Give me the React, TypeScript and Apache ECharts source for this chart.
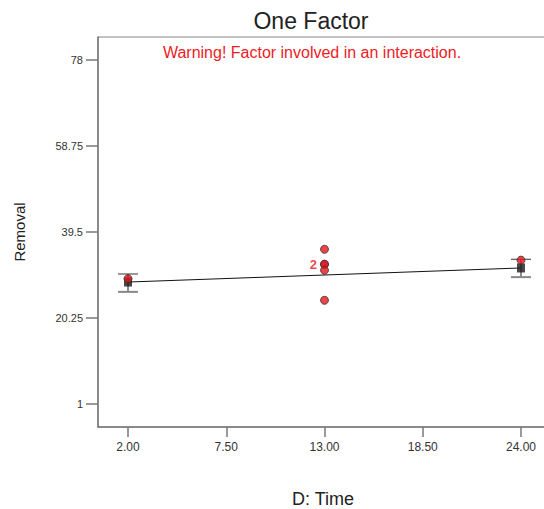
import React, { useEffect, useRef } from "react";
import * as echarts from "echarts";

const xTicks = [2, 7.5, 13, 18.5, 24];
const yTicks = [1, 20.25, 39.5, 58.75, 78];
const observedX = [2, 13, 13, 13, 13, 13, 24];
const observedY = [29.05, 35.63, 32.27, 32.27, 30.93, 24.21, 33.2];
const predX = [2, 24];
const predY = [28.3, 31.45];
const lowerCI = [26.1, 29.4];
const upperCI = [30.1, 33.4];

export default function App() {
  const ref = useRef<HTMLDivElement>(null);
  useEffect(() => {
    if (!ref.current) return;
    const chart = echarts.init(ref.current, undefined, { renderer: "svg" });
    const font = "'Liberation Sans', Arial, sans-serif";
    const obs = observedX.map((x, i) => {
      const item: any = { value: [x, observedY[i]] };
      if (i === 2) {
        item.label = {
          show: true,
          position: "left",
          distance: 3,
          formatter: "2",
          color: "#e8141c",
          fontWeight: "bold",
          fontSize: 13,
          fontFamily: font,
        };
      }
      return item;
    });
    chart.setOption({
      animation: false,
      backgroundColor: "#ffffff",
      grid: {
        left: 98,
        top: 37,
        width: 453,
        height: 390,
        show: true,
        borderColor: "#888",
        borderWidth: 1,
        containLabel: false,
        outerBoundsMode: "none",
      },
      xAxis: {
        type: "value",
        min: 0.32,
        max: 25.68,
        axisLine: { show: true, onZero: false, lineStyle: { color: "#777", width: 1.5 } },
        axisTick: { show: true, length: 10, customValues: xTicks, lineStyle: { color: "#777", width: 1.5 } },
        axisLabel: {
          customValues: xTicks,
          formatter: (v: number) => v.toFixed(2),
          color: "#333",
          fontSize: 12,
          fontFamily: font,
          margin: 14,
          hideOverlap: false,
        },
        splitLine: { show: false },
      },
      yAxis: {
        type: "value",
        min: -4.148,
        max: 83.15,
        axisLine: { show: true, onZero: false, lineStyle: { color: "#777", width: 1.5 } },
        axisTick: { show: true, length: 12, customValues: yTicks, lineStyle: { color: "#777", width: 1.5 } },
        axisLabel: {
          customValues: yTicks,
          formatter: (v: number) => String(v),
          color: "#333",
          fontSize: 11,
          fontFamily: font,
          margin: 15,
        },
        splitLine: { show: false },
      },
      graphic: [
        {
          type: "text",
          x: 311,
          y: 21,
          style: {
            text: "One Factor",
            fill: "#222",
            font: `23px ${font}`,
            textAlign: "center",
            textVerticalAlign: "middle",
          },
        },
        {
          type: "text",
          x: 312,
          y: 52,
          style: {
            text: "Warning! Factor involved in an interaction.",
            fill: "#ee1c25",
            font: `16px ${font}`,
            textAlign: "center",
            textVerticalAlign: "middle",
          },
        },
        {
          type: "text",
          x: 19,
          y: 232,
          rotation: Math.PI / 2,
          style: {
            text: "Removal",
            fill: "#222",
            font: `15px ${font}`,
            textAlign: "center",
            textVerticalAlign: "middle",
          },
        },
        {
          type: "text",
          x: 323,
          y: 499,
          style: {
            text: "D: Time",
            fill: "#222",
            font: `18px ${font}`,
            textAlign: "center",
            textVerticalAlign: "middle",
          },
        },
      ],
      series: [
        {
          type: "line",
          data: predX.map((x, i) => [x, predY[i]]),
          showSymbol: false,
          symbol: "none",
          lineStyle: { color: "#111", width: 1 },
          z: 2,
        },
        {
          type: "custom",
          data: predX.map((x, i) => [x, lowerCI[i], upperCI[i]]),
          renderItem: (params: any, api: any) => {
            const x = api.value(0);
            const lo = api.coord([x, api.value(1)]);
            const hi = api.coord([x, api.value(2)]);
            const hw = 10;
            return {
              type: "group",
              children: [
                { type: "line", shape: { x1: lo[0], y1: lo[1], x2: hi[0], y2: hi[1] }, style: { stroke: "#666", lineWidth: 1.5 } },
                { type: "line", shape: { x1: hi[0] - hw, y1: hi[1], x2: hi[0] + hw, y2: hi[1] }, style: { stroke: "#333", lineWidth: 1 } },
                { type: "line", shape: { x1: lo[0] - hw, y1: lo[1], x2: lo[0] + hw, y2: lo[1] }, style: { stroke: "#888", lineWidth: 2 } },
              ],
            };
          },
          z: 3,
        },
        {
          type: "scatter",
          data: predX.map((x, i) => [x, predY[i]]),
          symbol: "rect",
          symbolSize: [8, 9],
          itemStyle: { color: "#1a1a1a" },
          z: 4,
        },
        {
          type: "scatter",
          data: obs,
          symbol: "circle",
          symbolSize: 8,
          itemStyle: { color: "#e8141c", borderColor: "#333", borderWidth: 1 },
          z: 5,
        },
      ],
    });
    return () => chart.dispose();
  }, []);
  return (
    <div
      ref={ref}
      style={{ position: "absolute", left: 0, top: 0, width: 544, height: 509 }}
    />
  );
}
